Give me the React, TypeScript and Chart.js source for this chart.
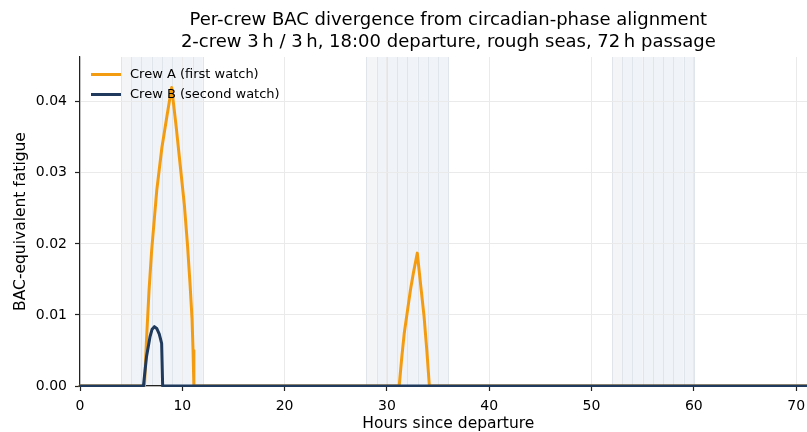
import React, { useEffect, useRef } from "react";
import { Chart, registerables } from "chart.js";

Chart.register(...registerables);

// ---- Data ----
const crewAHours = [0, 6.3, 6.5, 6.75, 7.0, 7.5, 8.0, 8.5, 8.96, 9.4, 9.8, 10.2, 10.5, 10.75, 10.95, 11.05, 11.13, 31.2, 31.45, 31.7, 32.0, 32.3, 32.6, 32.97, 33.3, 33.63, 33.9, 34.15, 72];
const crewAValues = [0, 0, 0.0065, 0.0135, 0.019, 0.0275, 0.0335, 0.038, 0.042, 0.0365, 0.031, 0.0255, 0.02, 0.0145, 0.0095, 0.005, 0, 0, 0.004, 0.0075, 0.0105, 0.0135, 0.016, 0.0187, 0.0142, 0.0098, 0.005, 0, 0];
const crewBHours = [0, 6.2, 6.5, 6.84, 7.05, 7.27, 7.5, 7.75, 7.98, 8.08, 72];
const crewBValues = [0, 0, 0.0041, 0.0069, 0.008, 0.00835, 0.0081, 0.0073, 0.006, 0, 0];
const nightBands = [[4, 12], [28, 36], [52, 60]];
const xTicks = [0, 10, 20, 30, 40, 50, 60, 70];
const yTicks = [0, 0.01, 0.02, 0.03, 0.04];
const seriesLabels = ["Crew A (first watch)", "Crew B (second watch)"];
const titleLines = [
  "Per-crew BAC divergence from circadian-phase alignment",
  "2-crew 3\u2009h / 3\u2009h, 18:00 departure, rough seas, 72\u2009h passage",
];
const xTitle = "Hours since departure";
const yTitle = "BAC-equivalent fatigue";

const COLOR_A = "#f39c12";
const COLOR_B = "#1f3a5c";
const FONT = "'DejaVu Sans', sans-serif";

export default function App() {
  const ref = useRef<HTMLCanvasElement>(null);

  useEffect(() => {
    const canvas = ref.current;
    if (!canvas) return;
    const W = 820;
    const H = 432;
    const LEFT = 80;
    const TOP = 57;
    const BOTTOM = 386;

    const bandsPlugin = {
      id: "bands",
      beforeDraw(chart: any) {
        const { ctx, chartArea, scales } = chart;
        const x = scales.x;
        ctx.save();
        for (const [s, e] of nightBands) {
          for (let h = s; h < e; h++) {
            const x0 = x.getPixelForValue(h);
            const x1 = x.getPixelForValue(h + 1);
            ctx.fillStyle = h === s ? "rgb(244,245,247)" : "rgb(240,243,247)";
            ctx.fillRect(x0, chartArea.top, x1 - x0, chartArea.bottom - chartArea.top);
          }
          ctx.strokeStyle = "rgb(224,229,235)";
          ctx.lineWidth = 1;
          for (let h = s; h <= e; h++) {
            const px = Math.round(x.getPixelForValue(h)) + 0.5;
            ctx.beginPath();
            ctx.moveTo(px, chartArea.top);
            ctx.lineTo(px, chartArea.bottom);
            ctx.stroke();
          }
        }
        ctx.restore();
      },
      afterDraw(chart: any) {
        const { ctx, chartArea } = chart;
        ctx.save();
        ctx.fillStyle = "#000";
        ctx.textAlign = "center";
        ctx.textBaseline = "middle";
        const cx = (chartArea.left + chartArea.right) / 2;
        ctx.font = `18px ${FONT}`;
        ctx.fillText(titleLines[0], cx, 20);
        ctx.fillText(titleLines[1], cx, 42);
        ctx.font = `15.5px ${FONT}`;
        ctx.fillText(xTitle, cx, 424);
        ctx.save();
        ctx.translate(21, (chartArea.top + chartArea.bottom) / 2);
        ctx.rotate(-Math.PI / 2);
        ctx.fillText(yTitle, 0, 0);
        ctx.restore();
        // legend
        const legendRows = [
          { label: seriesLabels[0], color: COLOR_A, y: 74.5 },
          { label: seriesLabels[1], color: COLOR_B, y: 94.5 },
        ];
        ctx.textAlign = "left";
        ctx.font = `13px ${FONT}`;
        for (const r of legendRows) {
          ctx.strokeStyle = r.color;
          ctx.lineWidth = 3;
          ctx.beginPath();
          ctx.moveTo(91, r.y);
          ctx.lineTo(121, r.y);
          ctx.stroke();
          ctx.fillStyle = "#000";
          ctx.fillText(r.label, 130, r.y);
        }
        ctx.restore();
      },
    };

    const chart = new Chart(canvas, {
      type: "line",
      data: {
        datasets: [
          {
            label: seriesLabels[0],
            data: crewAHours.map((h, i) => ({ x: h, y: crewAValues[i] })),
            borderColor: COLOR_A,
            backgroundColor: COLOR_A,
            borderWidth: 3,
            pointRadius: 0,
            tension: 0,
            fill: false,
            order: 2,
            borderJoinStyle: "round",
            borderCapStyle: "round",
            clip: { left: 5, top: 5, right: 0, bottom: 1 },
          },
          {
            label: seriesLabels[1],
            data: crewBHours.map((h, i) => ({ x: h, y: crewBValues[i] })),
            borderColor: COLOR_B,
            backgroundColor: COLOR_B,
            borderWidth: 3,
            pointRadius: 0,
            tension: 0,
            fill: false,
            order: 1,
            borderJoinStyle: "round",
            borderCapStyle: "round",
            clip: { left: 5, top: 5, right: 0, bottom: 1 },
          },
        ],
      },
      options: {
        responsive: false,
        animation: false,
        devicePixelRatio: 1,
        layout: { padding: { left: 0, top: TOP, right: W - 816.6, bottom: 0 } },
        plugins: {
          legend: { display: false },
          title: { display: false },
          tooltip: { enabled: false },
        },
        scales: {
          x: {
            type: "linear",
            min: 0,
            max: 72,
            afterBuildTicks: (s: any) => {
              s.ticks = xTicks.map((v) => ({ value: v }));
            },
            afterFit: (s: any) => {
              s.height = H - BOTTOM;
            },
            ticks: {
              color: "#000",
              font: { family: FONT, size: 14 },
              padding: 7,
              maxRotation: 0,
              callback: (v: any) => String(v),
            },
            grid: {
              color: "rgb(234,234,234)",
              lineWidth: 1,
              tickColor: "#222",
              tickLength: 5,
              tickWidth: 1.2,
            },
            border: { display: true, color: "#222", width: 1.2 },
          },
          y: {
            type: "linear",
            min: 0,
            max: 0.0463,
            afterBuildTicks: (s: any) => {
              s.ticks = yTicks.map((v) => ({ value: v }));
            },
            afterFit: (s: any) => {
              s.width = LEFT;
            },
            ticks: {
              color: "#000",
              font: { family: FONT, size: 14 },
              padding: 8,
              callback: (v: any) => Number(v).toFixed(2),
            },
            grid: {
              color: "rgb(234,234,234)",
              lineWidth: 1,
              tickColor: "#222",
              tickLength: 5,
              tickWidth: 1.2,
            },
            border: { display: true, color: "#222", width: 1.2 },
          },
        },
      },
      plugins: [bandsPlugin],
    } as any);

    return () => chart.destroy();
  }, []);

  return (
    <div
      style={{
        position: "fixed",
        left: 0,
        top: 0,
        width: 807,
        height: 432,
        overflow: "hidden",
        background: "#fff",
      }}
    >
      <canvas ref={ref} width={820} height={432} style={{ display: "block", width: 820, height: 432 }} />
    </div>
  );
}
